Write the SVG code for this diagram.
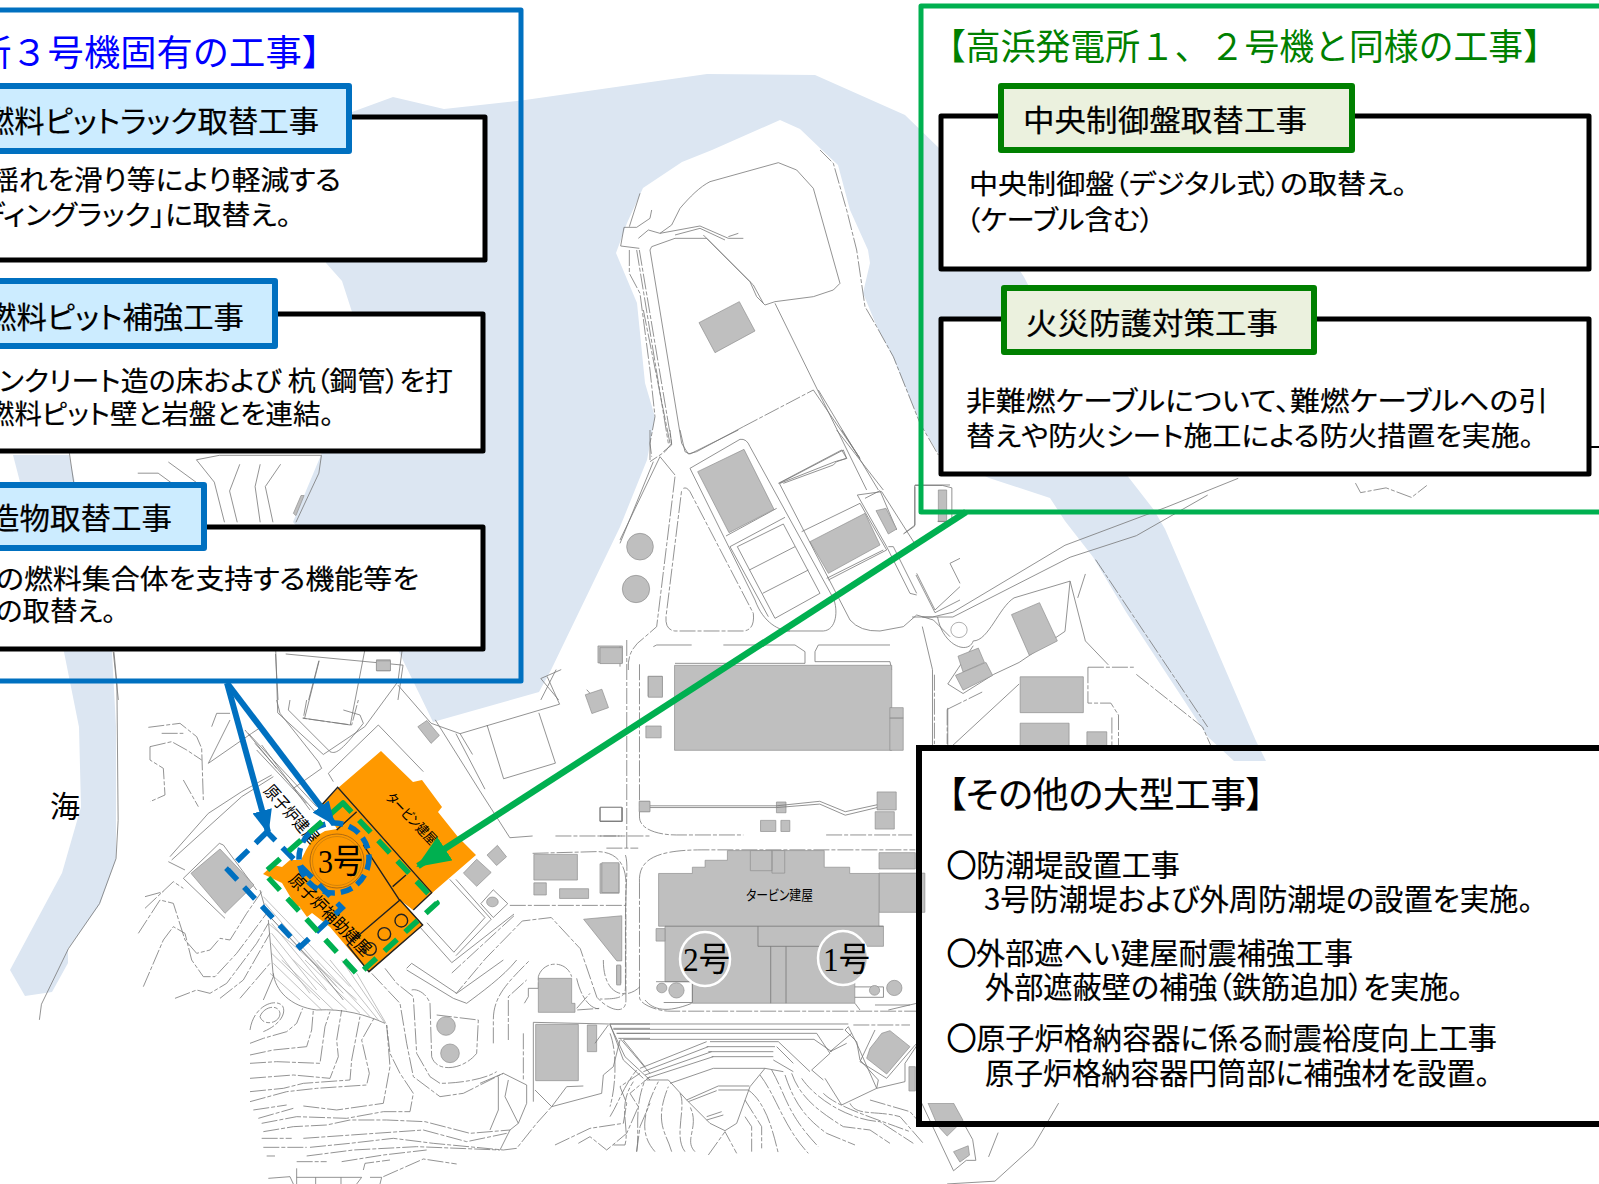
<svg xmlns="http://www.w3.org/2000/svg" width="1599" height="1184" viewBox="0 0 1599 1184">
<style>
text{font-family:"Noto Sans CJK JP","Noto Sans CJK SC",sans-serif;fill:#000;font-feature-settings:"palt"}
.t{font-size:27px;stroke:#000;stroke-width:.2}
.h{font-size:30px;stroke:#000;stroke-width:.2}
.o{font-size:30px;stroke:#000;stroke-width:.2}
.ti{font-size:36px;font-feature-settings:normal}
.c{stroke-width:1.4}
.sf{font-family:"Liberation Serif","Noto Sans CJK JP",serif}
.w{fill:#DCE6F2;stroke:none}
.b{fill:#BFBFBF;stroke:#8f8f8f;stroke-width:.7;vector-effect:non-scaling-stroke}
.l{fill:none;stroke:#777;stroke-width:.8;vector-effect:non-scaling-stroke}
.f{fill:none;stroke:#999;stroke-width:.6;vector-effect:non-scaling-stroke}
.d{fill:none;stroke:#777;stroke-width:.8;stroke-dasharray:16 2 4 2;vector-effect:non-scaling-stroke}
.k{fill:none;stroke:#222;stroke-width:1.4;vector-effect:non-scaling-stroke}
.box{fill:#fff;stroke:#000;stroke-width:5;stroke-linejoin:round}
.hb{fill:#CCECFF;stroke:#0070C0;stroke-width:6;stroke-linejoin:round}
.hg{fill:#EBF1DE;stroke:#008000;stroke-width:6;stroke-linejoin:round}
</style>
<defs>
<marker id="ab" markerUnits="userSpaceOnUse" markerWidth="24" markerHeight="20" refX="22" refY="10" orient="auto"><path d="M0,0L24,10L0,20Z" fill="#0070C0"/></marker>
<marker id="ag" markerUnits="userSpaceOnUse" markerWidth="34" markerHeight="28" refX="32" refY="14" orient="auto"><path d="M0,0L34,14L0,28Z" fill="#00B050"/></marker>
</defs>
<rect width="1599" height="1184" fill="#fff"/>
<g id="map">
<path class="w" d="M326,263L352,112L393,97L444,109L525,100L707,74L815,75L905,115L941,150L1024,277L1126,474L1154,510L1165,529L1256,741L1266,761L1234,761L1208,737L1126,612L1093,557L1065,521L1050,498L989,478L938,453L920,423L893,357L877,327L863,293L870,263L868,250L850,210L838,165L822,150L800,129L780,120L712,150L682,162L643,188L627,223L616,253L637,303L645,383L655,417L647,460L620,527L551,670L539,692L433,722L398,650L293,522L321,455L352,312L342,281Z"/>
<path class="w" d="M13,455L69,455L112,652L116,727L116,859L100,904L68,949L68,963L52,992L25,996L10,970L62,873L81,807L79,727L64,652Z"/>
<g transform="scale(.5102,.4464)">
<path class="b" d="M1172,1447H1220V1485H1172ZM1270,1515H1298V1560H1270Z"/>
<path class="l" d="M136,1015L145,1085M385,1030L430,1020L630,1020L625,1060L580,1170M385,1030L420,1080L440,1170M470,1040L450,1100L465,1170M510,1040L500,1090L510,1170M550,1040L520,1090L535,1170M270,1060L310,1060L340,1085M330,1035L390,1085"/>
<path class="b" d="M590,1110L596,1110L580,1155L575,1150Z"/>
<path class="l" d="M222,1460L232,1568M540,1465L545,1568M560,1465L790,1490L780,1568M625,1480L605,1568"/>
<path class="b" d="M738,1478H765V1503H738Z"/>
<path class="l" d="M1100,1500L1060,1520L1095,1568M1150,1545L1168,1568M1090,1500L1060,1568"/>
</g>
<g id="peninsula" transform="translate(600,150) scale(.33333)">
<path class="l" d="M155,180L150,205L110,232H72L62,288L118,295M88,230L120,130M240,175C270,140 300,110 330,95L535,38L590,60L640,115L720,400L700,420L640,440L525,455L495,465L470,440L450,395L320,265H225L155,290L150,300L245,880L265,912L290,905L430,830"/>
<path class="d" d="M430,830L640,720"/>
<path class="l" d="M240,175L215,225L180,250L145,240L115,265M180,250L300,228L385,265H430M225,255L300,235L375,270M415,250L385,260M310,255L460,405L490,460"/>
<path class="d" d="M88,300V370L120,430L150,660L165,800L150,880L155,920M110,300L205,880M118,300L215,880L195,905L150,935M130,480L210,880M660,0L700,40L740,180L770,300L795,470L830,530L880,620L960,820L1015,915"/>
<path class="l" d="M525,460L800,1020M640,720L780,925M655,720L835,1020"/>
<path class="l" d="M535,1000L725,900L740,925L705,935L540,1000"/>
<path class="b" d="M297,518L418,455L465,543L345,608Z"/>
</g>
<g id="plant-north" transform="translate(620,430) scale(.33333)">
<path class="l" d="M210,115L360,28Q380,25 390,50L640,505C655,540 650,600 610,603H480M210,115L405,510C430,580 480,603 510,603"/>
<path class="l" d="M318,318L470,235M330,350L495,262M352,350L490,282L600,490L465,565ZM388,420L525,350M428,490L565,420M330,350L445,560"/>
<path class="d" d="M190,175Q200,170 210,185L400,550Q405,600 370,603H165Q135,600 138,560L185,180M165,140L110,590L70,625Q20,660 25,720"/>
<path class="l" d="M165,135L120,80M100,95L0,340M120,80L0,330M0,650V710M545,305L720,220L800,360L625,450M620,445L790,360"/>
<circle class="b" cx="60" cy="350" r="40"/><circle class="b" cx="48" cy="477" r="41"/>
<path class="b" d="M233,125L372,58L462,238L327,308Z"/>
<path class="b" d="M570,335L735,250L780,345L625,430Z"/>
<path class="l" d="M478,160L670,60L680,85L650,95L640,105L490,160M478,160L690,570Q720,605 780,603L850,590L890,555L940,570L990,620"/>
<path class="l" d="M712,195L785,185L890,350M735,205L780,182L830,300M712,195L800,350L870,490L890,495M805,350H820L890,490M650,0L790,180M665,0L720,85"/>
<path class="b" d="M768,242L798,235L830,297L805,312Z"/>
<path class="l" d="M885,170V285L850,312M885,165H990M890,430L945,540L1020,470M990,400L1020,460M990,400L1020,385M888,435L945,548L1020,510M90,0V90M150,0L155,45L130,65M180,0L195,65L210,72L355,0"/>
<path class="b" d="M955,180H980V275H955Z"/>
<path class="l" d="M100,650L110,645H215M310,645H525L555,665V700H165M585,665L595,645H810M585,665V695H810L815,720"/>
</g>
<g transform="translate(800,0) scale(.5096,.4783)">
<path class="l" d="M225,1015H280L298,1020V1090H270M225,1015V1100L205,1115"/>
<path class="l" d="M220,1290L260,1290L300,1280L520,1140L720,1060L860,1000M240,1290L300,1290L530,1165L660,1120L800,1035"/>
<circle cx="312" cy="1317" r="16" fill="#fff" stroke="#777" stroke-width="1.2"/>
<path class="l" d="M270,1290C280,1350 330,1370 340,1340C370,1340 390,1270 420,1250L530,1215L520,1320L430,1385L380,1410L320,1450L290,1430L340,1350"/>
<path class="l" d="M530,1215L560,1340L605,1390M560,1200L545,1250"/>
<path class="b" d="M415,1285L470,1260L505,1340L450,1370Z"/>
<path class="b" d="M310,1372L350,1355L362,1385L320,1405Z"/>
<path class="b" d="M305,1412L365,1385L378,1412L320,1443Z"/>
<path class="b" d="M432,1415H556V1490H432ZM432,1512H528V1568H432ZM563,1530H602V1568H563Z"/>
<path class="d" d="M565,1395H655M565,1395V1470H610L625,1495V1568M612,1500V1568"/>
<path class="l" d="M240,1310L260,1400V1560M290,1480V1568L430,1430"/>
<path class="d" d="M1090,1010L1100,1030L1150,1020L1200,1040L1230,1015M580,1170L800,1520M660,1410L790,1520L810,1568"/>
</g>
<g transform="translate(600,640) scale(.637,.3469)">
<path class="b" d="M0,22H35V68H0Z"/>
<path class="b" d="M117,73H458V318H117Z"/>
<path class="b" d="M76,105H98V165H76ZM72,248H96V282H72Z"/>
<path class="b" d="M455,195H476V225H455ZM455,225H476V318H455Z"/>
<path class="d" d="M525,100V300M62,70V510C62,545 90,562 120,562H225M355,562H490M545,200V300M545,200L600,150"/>
<path class="d" d="M42,0V600M0,565H35M10,600H60"/>
<path class="b" d="M62,465H78V495H62ZM277,467H292V498H277ZM435,438H465V490H435ZM432,495H462V545H432ZM252,520H276V552H252ZM284,520H298V552H284Z"/>
<path class="l" d="M78,483H277L345,473L385,505L435,483M78,478H277L345,465L385,495L435,475"/>
<rect x="0" y="483" width="35" height="40" fill="#fff" stroke="#777" vector-effect="non-scaling-stroke"/>
<path class="d" d="M62,700C60,640 80,605 160,605H495M40,620C45,650 40,700 40,800V1000C40,1030 30,1035 0,1035M62,700V1030C62,1050 90,1070 110,1070H500"/>
<path class="b" d="M0,645H30V730H0Z"/>
<path class="b" d="M438,613H495V660H438ZM438,672H510V785H438Z"/>
<path class="b" d="M92,673H145V655H165V635H200V607H352V655H392V673H438V825H445V883H400V1047H145V985H102V825H92Z"/>
<path class="b" d="M88,832H102V868H88ZM236,607H270V665H236ZM270,607H290V672H270Z"/>
<path class="l" d="M248,825V883H400M268,883V1047M292,883V1047M102,825H445"/>
<path class="l" d="M400,1000H445V1030H400M88,985H145V1045H100"/>
<ellipse class="b" cx="97" cy="1003" rx="8" ry="14"/><ellipse class="b" cx="120" cy="1010" rx="12" ry="22"/><ellipse class="b" cx="431" cy="1010" rx="8" ry="14"/><ellipse class="b" cx="462" cy="1003" rx="12" ry="22"/>
<path class="b" d="M485,1230H495V1300H485Z"/>
<path class="b" d="M515,1335H555L570,1385L545,1430L530,1400Z"/>
<path class="b" d="M555,1475L578,1458L580,1485L565,1505Z"/>
<path class="l" d="M505,1335L555,1530L575,1500L590,1500L585,1440L570,1390M720,1335L680,1460L620,1560L545,1568M625,1420L610,1490"/>
</g>
<g id="slope-south" transform="translate(610,1000) scale(.33333)">
<path class="l" d="M105,0C130,30 170,40 245,10M735,10L750,30M795,15H900M835,30L920,10"/>
<path class="d" d="M730,75H900"/>
<path class="l" d="M0,72H715M10,88H700M20,100H620L660,160M40,118H612L665,155M300,125H505M290,140H495M295,155H490M305,170H490M310,205H465L420,260M290,125L90,205M295,140L100,215M305,155L105,225M310,170L110,235M310,205L180,250M110,240H175L230,300M40,120L105,200M0,72L40,180L100,235M325,258H418M325,258L230,300M325,270H415M320,272L235,305M230,300L300,370L345,392L380,370L420,260M340,345L290,360M335,335L290,350M505,125L600,215M500,140L550,190M490,180L550,215M465,205L520,215"/>
<path class="l" d="M660,160L605,210L640,240M645,235L695,315L800,265L740,130L715,80L705,90L740,125L750,180L805,240L800,265M800,265L885,245V190L925,130M725,100L660,155L710,130M795,90L750,185L830,235L920,130"/>
<path class="b" d="M840,92L900,140L830,222L770,175L780,145L800,120L815,100Z"/>
<path class="d" d="M0,350C30,300 40,260 80,210M10,435H45C60,380 20,320 70,245M80,455C90,390 70,330 105,240M135,455C105,420 80,370 145,245M185,455C170,400 130,370 175,260M225,455C190,410 230,320 210,280M255,455C220,420 270,380 240,320M295,465L345,395L380,460M405,350L425,380V455M405,300L455,380V445M415,270C470,310 490,400 505,460M450,225C500,290 520,380 595,460M485,210C530,290 530,340 625,440M525,225C550,300 580,350 650,400L735,435M545,220C570,290 620,330 700,380L780,390L840,430M575,235C620,300 720,360 810,365L910,430M640,280C680,320 780,350 900,395M720,310C740,350 800,330 870,350L940,430M780,300L900,335L940,380M0,100C20,150 20,250 0,320"/>
</g>
<g transform="translate(0,640) scale(.4145,.3469)">
<path class="l" d="M282,125L285,520L280,630L240,760L165,890L100,1050L95,1095"/>
<path class="l" d="M275,35L282,125M665,20L670,210L780,330L880,250L960,120L970,30M730,225L845,245L880,30M770,60L735,225"/>
<path class="b" d="M908,60H942V88H908Z"/>
<path class="l" d="M960,130L1040,240L1110,270L1350,185L1320,105M1175,245L1215,400L1340,355L1300,210M1110,270L1140,330M1050,230L1155,430L1230,570L1285,565M1100,270L1170,430"/>
<path class="l" d="M1085,690L1170,800L1095,900L1030,815M1100,690L1185,805L1100,910M1000,810L1090,930L1240,790M1160,760L1190,720L1225,760L1190,800Z"/>
<path class="b" d="M1008,250L1030,232L1060,275L1040,298Z"/>
<path class="b" d="M1118,672L1150,632L1185,670L1150,710Z"/>
<path class="b" d="M1175,620L1200,592L1222,625L1198,650Z"/>
<circle class="b" cx="1188" cy="755" r="14"/>
<path class="b" d="M1412,158L1452,142L1468,195L1428,212Z"/>
<path class="b" d="M1542,465H1568V495H1542Z"/>
<rect x="1448" y="482" width="52" height="40" fill="#fff" stroke="#777" vector-effect="non-scaling-stroke"/>
<path class="d" d="M1340,565H1568M1285,615L1440,610C1490,610 1510,650 1510,700V1040C1510,1080 1470,1070 1440,1030L1400,890L1330,800L1260,810L1170,920L1100,1020M1230,765H1510M1240,795L1090,960"/>
<path class="b" d="M1288,618H1393V692H1288ZM1288,700H1318V735H1288ZM1350,717H1420V745H1350ZM1452,642H1493V728H1452ZM1408,805L1500,795V925L1488,925Z"/>
<path class="b" d="M1488,940H1498V990H1488Z"/>
</g>
<g id="slope-west" transform="translate(130,700) scale(.33333)">
<path class="l" d="M245,80L260,40L300,40M235,190L300,60M235,190L365,100L395,80M120,470L235,340L335,275L425,225M115,485L165,510M125,480L335,290L430,230M345,90L440,205M355,100L560,320M375,130L555,335M395,135L540,330M380,150L530,310"/>
<path class="l" d="M440,0L450,40L565,185L575,205L490,265M480,0L475,30L600,155C620,165 640,145 700,70L690,45L640,30M595,220L745,75L880,215M610,245L595,220"/>
<path class="d" d="M530,0L520,55L665,75L685,0"/>
<path class="d" d="M55,82L150,70L200,110L215,145L220,300M95,100L160,100M60,140L125,125L170,150L215,180M60,140V180L100,205L105,285L60,305M160,240L205,320"/>
<path class="l" d="M160,535L268,430L280,435L380,570M160,535L285,655"/>
<path class="b" d="M183,520L270,447L372,555L285,640Z"/>
<path class="d" d="M45,625L130,545L160,565M45,590L100,575M25,700L90,600L130,610L165,720L200,760L240,750L270,715L300,720L350,640L395,575M40,860L100,720L130,680L165,700L185,780L220,830L255,830L320,760L410,640M135,895L200,870L240,880L290,850L380,730L415,670M270,895L340,840L420,700M330,895L420,790"/>
<path class="f" d="M415,670L680,900M425,760L570,900M420,820L510,900M400,590L660,860M405,610L620,860M410,640L640,880M425,670L590,870M425,700L560,870M425,730L540,880"/>
<path class="l" d="M390,570L410,640L560,800L640,900M415,660L430,830L400,900"/>
</g>
<g id="slope-mid" transform="translate(250,960) scale(.33333)">
<path class="l" d="M70,40C75,90 120,140 200,150C280,145 350,165 405,190"/>
<path class="f" d="M70,10L215,150M95,0L250,150M130,0L290,150M165,0L330,160M200,0L360,170M240,0L385,180M275,0L405,190M320,40L408,190"/>
<path class="d" d="M30,170C40,140 85,130 90,160C90,190 40,200 30,170M0,210C10,140 70,115 95,135C110,150 100,190 40,215"/>
<path class="d" d="M0,250L40,235L110,215L140,190L158,145M0,285L70,270L170,260L185,210L190,150M0,310L80,305L210,310L225,200L240,155M0,355L130,345L240,355L265,290L260,240L275,150M0,395L100,385L160,370L300,360L305,300L330,170M0,425L110,395L200,385L350,375L358,340L335,240L372,175M10,450L110,435M160,438L260,450L400,430L420,320L410,195M25,475L130,445M35,490L140,470L290,475L400,455L480,455L490,400L450,340L420,280L410,195M40,515L130,500L230,495L300,480L410,480L525,485L660,520L780,510M35,535H125M160,535L520,510L650,545L770,520M40,562H170M180,562L300,550L430,535L550,550L760,570L800,565L860,490L905,440M170,588L310,570L500,560L750,570M50,588H75M140,605H230M275,605L400,585L530,570M340,630L345,610L420,600M400,650L520,597L620,612"/>
<path class="l" d="M140,625V672M140,652H335L320,672M197,652V672M273,652V672M55,655L120,650L130,672M360,652H395L390,672"/>
<path class="d" d="M405,25L440,70L490,110L500,280L540,350L570,370C620,370 700,360 740,335M365,40L450,130L470,250L490,350L570,410L640,400L760,340M485,90C500,85 530,100 540,130L545,290C560,340 640,330 680,280L685,180L560,165"/>
<path class="l" d="M470,25L485,10L620,100L760,0M470,30L610,115L650,130C690,100 760,50 800,0"/>
<path class="d" d="M730,250V180C730,110 770,70 840,0M775,240V110L830,60M820,220V360M865,50C880,0 950,0 965,50M980,145L1020,100M835,85H865V50M835,85V110L820,135M980,55C1000,140 1040,150 1050,145L980,150M1060,0C1060,110 1130,120 1170,80"/>
<circle class="b" cx="588" cy="198" r="28"/><circle class="b" cx="600" cy="280" r="28"/>
<path class="b" d="M865,55H965V130H975V157H865Z"/>
<path class="b" d="M857,193H985V362H857Z"/>
<path class="b" d="M1012,195H1040V275H1012Z"/>
<path class="b" d="M1100,15H1112V75H1100Z"/>
<path class="l" d="M850,187L1075,192H1200M1090,205H1200M1100,220H1200M1105,235H1200M850,187V425M1075,195L1035,250M1080,195L1125,290L1200,360M1110,235L1200,340M760,340L830,375V430L805,490L765,410L775,360M760,340L690,370M745,350V450L720,510M855,390L905,440L950,380L1000,378M905,440L1055,400L1060,345L1090,320L1110,240M805,490L780,510L750,570"/>
<path class="d" d="M915,555L1020,505L1120,490L1130,430L1110,380L1170,340M985,550L1020,530L1070,570L1130,520L1165,440L1140,400L1200,350M1160,575L1170,500L1200,430"/>
</g>
</g>
<g id="unit3">
<circle cx="337" cy="861" r="31" fill="#fff"/>
<path fill="#FF9900" d="M381,751L413,782L422,780L442,807L438,812L458,837L463,842L476,855L432,893L413,910L400,900L423,925L369,972L347,947L330,927L312,913L307,917L299,906L297,908L282,883L263,874L273,865L282,867L290,860L301,860L306,850L313,838L325,831L337,829L322,804L338,788Z"/>
<circle cx="337" cy="861" r="27" fill="#FF9900" stroke="#B06A10" stroke-width="1"/>
<circle cx="337" cy="861" r="24.5" fill="none" stroke="#C07A10" stroke-width=".7"/>
<g transform="translate(200,730) scale(.3333)">
<path class="k" d="M365,225L413,172L695,488L640,540M470,245L410,300M578,470L618,435M490,345L598,510M442,645L600,510L668,585L507,725Z"/>
<circle class="k" cx="510" cy="657" r="19"/><circle class="k" cx="553" cy="612" r="19"/><circle class="k" cx="604" cy="572" r="19"/>
</g>
<text transform="translate(408,822) rotate(46)" text-anchor="middle" font-size="14" textLength="66" lengthAdjust="spacingAndGlyphs">タービン建屋</text>
<text transform="translate(287,818) rotate(48)" text-anchor="middle" font-size="17" textLength="72" lengthAdjust="spacingAndGlyphs">原子炉建屋</text>
<text transform="translate(326,919) rotate(45)" text-anchor="middle" font-size="17" textLength="108" lengthAdjust="spacingAndGlyphs">原子炉補助建屋</text>
<text class="sf" x="318" y="873" font-size="34" textLength="45" lengthAdjust="spacingAndGlyphs">3号</text>
<text x="50" y="817" font-size="30">海</text>
<text x="746" y="900" font-size="14" textLength="67" lengthAdjust="spacingAndGlyphs">タービン建屋</text>
<ellipse cx="705" cy="959" rx="25" ry="27" fill="#BFBFBF" stroke="#fff" stroke-width="2.5"/>
<ellipse cx="843" cy="958" rx="25" ry="27" fill="#BFBFBF" stroke="#fff" stroke-width="2.5"/>
<text class="sf" x="683" y="971" font-size="34" textLength="47" lengthAdjust="spacingAndGlyphs">2号</text>
<text class="sf" x="823" y="971" font-size="34" textLength="47" lengthAdjust="spacingAndGlyphs">1号</text>
</g>
<g id="connectors" fill="none" stroke-width="5.5">
<circle cx="334" cy="858" r="35" stroke="#0070C0" stroke-dasharray="12 6"/>
<path stroke="#0070C0" stroke-dasharray="16 10" d="M267,832L228,870L300,947L342,908Z"/>
<path stroke="#00B050" stroke-dasharray="17 11" stroke-linejoin="round" d="M343,803L264,873L358,975L437,903Z"/>
<path stroke="#0070C0" stroke-width="6" marker-end="url(#ab)" d="M227,683L268,832"/>
<path stroke="#0070C0" stroke-width="6" marker-end="url(#ab)" d="M227,683L334,824"/>
<path stroke="#00B050" stroke-width="6.5" marker-end="url(#ag)" d="M966,512L418,866"/>
</g>
<g id="panel-unit3">
<rect x="-10" y="10" width="531" height="671" fill="none" stroke="#0070C0" stroke-width="5" stroke-linejoin="round"/>
<text class="ti" x="-25" y="66" style="fill:#0000FF" textLength="363" lengthAdjust="spacingAndGlyphs">所３号機固有の工事】</text>
</g>
<g id="rack">
<rect class="box" x="-10" y="117" width="495" height="143"/>
<rect class="hb" x="-10" y="86" width="359" height="65"/>
<text class="h" x="-16" y="132" textLength="335" lengthAdjust="spacingAndGlyphs">燃料ピットラック取替工事</text>
<text class="t" x="-10" y="190" textLength="351" lengthAdjust="spacingAndGlyphs">揺れを滑り等により軽減する</text>
<text class="t" x="-22" y="225" textLength="313" lengthAdjust="spacingAndGlyphs">ディングラック」に取替え。</text>
</g>
<g id="pit">
<rect class="box" x="-10" y="314" width="493" height="137"/>
<rect class="hb" x="-10" y="281" width="285" height="65"/>
<text class="h" x="-14" y="328" textLength="258" lengthAdjust="spacingAndGlyphs">燃料ピット補強工事</text>
<text class="t" x="-1" y="391" textLength="454" lengthAdjust="spacingAndGlyphs">ンクリート造の床および 杭（鋼管）を打</text>
<text class="t" x="-13" y="424" textLength="347" lengthAdjust="spacingAndGlyphs">燃料ピット壁と岩盤とを連結。</text>
</g>
<g id="internals">
<rect class="box" x="-10" y="527" width="493" height="122"/>
<rect class="hb" x="-10" y="485" width="214" height="63"/>
<text class="h" x="-11" y="529" textLength="183" lengthAdjust="spacingAndGlyphs">造物取替工事</text>
<text class="t" x="-4" y="589" textLength="423" lengthAdjust="spacingAndGlyphs">の燃料集合体を支持する機能等を</text>
<text class="t" x="-4" y="621" textLength="120" lengthAdjust="spacingAndGlyphs">の取替え。</text>
</g>
<g id="panel-common">
<rect x="921" y="6" width="690" height="506" fill="none" stroke="#00B050" stroke-width="5" stroke-linejoin="round"/>
<text class="ti" x="931" y="60" style="fill:#008000" textLength="627" lengthAdjust="spacingAndGlyphs">【高浜発電所１、２号機と同様の工事】</text>
</g>
<g id="control">
<rect class="box" x="941" y="116" width="648" height="153"/>
<rect class="hg" x="1001" y="86" width="351" height="64"/>
<text class="h" x="1023" y="131" textLength="284" lengthAdjust="spacingAndGlyphs">中央制御盤取替工事</text>
<text class="t" x="969" y="194" textLength="438" lengthAdjust="spacingAndGlyphs">中央制御盤（デジタル式）の取替え。</text>
<text class="t" x="966" y="230" textLength="188" lengthAdjust="spacingAndGlyphs">（ケーブル含む）</text>
</g>
<g id="fire">
<rect class="box" x="941" y="319" width="648" height="155"/>
<rect class="hg" x="1004" y="288" width="310" height="64"/>
<text class="h" x="1026" y="334" textLength="252" lengthAdjust="spacingAndGlyphs">火災防護対策工事</text>
<text class="t" x="966" y="411" textLength="582" lengthAdjust="spacingAndGlyphs">非難燃ケーブルについて、難燃ケーブルへの引</text>
<text class="t" x="966" y="446" textLength="568" lengthAdjust="spacingAndGlyphs">替えや防火シート施工による防火措置を実施。</text>
<path d="M1590,447H1599" stroke="#000" stroke-width="2"/>
</g>
<g id="others">
<rect x="926" y="761" width="690" height="65" fill="#fff"/>
<rect x="926" y="833" width="680" height="270" fill="#fff"/>
<rect x="919" y="748" width="700" height="376" fill="none" stroke="#000" stroke-width="6"/>
<text x="948" y="808" font-size="36" textLength="316" lengthAdjust="spacingAndGlyphs" style="stroke:#000;stroke-width:.2">【その他の大型工事】</text>
<text class="o" x="947" y="876" textLength="233" lengthAdjust="spacingAndGlyphs"><tspan class="c">○</tspan>防潮堤設置工事</text>
<text class="o" x="984" y="910" textLength="549" lengthAdjust="spacingAndGlyphs">3号防潮堤および外周防潮堤の設置を実施。</text>
<text class="o" x="947" y="964" textLength="406" lengthAdjust="spacingAndGlyphs"><tspan class="c">○</tspan>外部遮へい建屋耐震補強工事</text>
<text class="o" x="985" y="998" textLength="478" lengthAdjust="spacingAndGlyphs">外部遮蔽壁の補強（鉄筋追加）を実施。</text>
<text class="o" x="947" y="1049" textLength="550" lengthAdjust="spacingAndGlyphs"><tspan class="c">○</tspan>原子炉格納容器に係る耐震裕度向上工事</text>
<text class="o" x="985" y="1084" textLength="505" lengthAdjust="spacingAndGlyphs">原子炉格納容器円筒部に補強材を設置。</text>
</g>
</svg>
